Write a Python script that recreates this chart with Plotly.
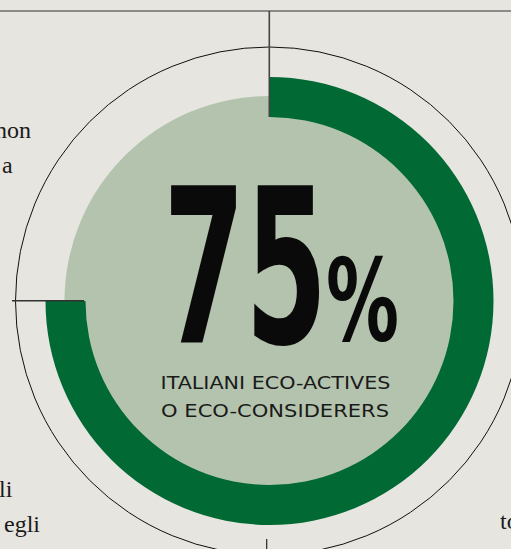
import plotly.graph_objects as go

# ---- data ----
labels = ["Eco-actives o eco-considerers", "Altri"]
values = [75, 25]
subtitle_lines = ["ITALIANI ECO-ACTIVES", "O ECO-CONSIDERERS"]
side_text_left = [("non", 33, 138), ("a", 15, 173), ("li", 15, 497), ("egli", 42, 532)]
side_text_right = [("to", 498, 529)]

W, H = 511, 549
BG = "#e6e5e0"
DARK_GREEN = "#006934"
LIGHT_GREEN = "#b4c3ad"

CX, CY = 269.5, 301
R_OUT_CIRCLE = 254
R_RING_OUT = 224
R_RING_IN = 184
R_DISK = 205


def px(x):
    return x / W


def py(y):
    return 1 - y / H


fig = go.Figure()

fig.add_trace(go.Pie(
    labels=labels,
    values=values,
    sort=False,
    direction="clockwise",
    rotation=0,
    hole=R_RING_IN / R_RING_OUT,
    marker=dict(colors=[DARK_GREEN, "rgba(0,0,0,0)"], line=dict(width=0)),
    textinfo="none",
    hoverinfo="skip",
    showlegend=False,
    domain=dict(x=[px(CX - R_RING_OUT), px(CX + R_RING_OUT)],
                y=[py(CY + R_RING_OUT), py(CY - R_RING_OUT)]),
))

shapes = [
    dict(type="circle", xref="paper", yref="paper", layer="below",
         x0=px(CX - R_DISK), x1=px(CX + R_DISK), y0=py(CY + R_DISK), y1=py(CY - R_DISK),
         fillcolor=LIGHT_GREEN, line=dict(width=0)),
    dict(type="circle", xref="paper", yref="paper", layer="below",
         x0=px(CX - R_OUT_CIRCLE), x1=px(CX + R_OUT_CIRCLE),
         y0=py(CY + R_OUT_CIRCLE), y1=py(CY - R_OUT_CIRCLE),
         fillcolor="rgba(0,0,0,0)", line=dict(color="#111", width=1)),
    dict(type="line", xref="paper", yref="paper", layer="above",
         x0=0, x1=1, y0=py(11), y1=py(11), line=dict(color="#333", width=1.2)),
    dict(type="line", xref="paper", yref="paper", layer="above",
         x0=px(269.3), x1=px(269.3), y0=py(11), y1=py(117), line=dict(color="#444", width=1.6)),
    dict(type="line", xref="paper", yref="paper", layer="above",
         x0=px(12), x1=px(84), y0=py(300.7), y1=py(300.7), line=dict(color="#333", width=1.6)),
    dict(type="line", xref="paper", yref="paper", layer="above",
         x0=px(266.7), x1=px(266.7), y0=py(539), y1=py(549), line=dict(color="#222", width=1.2)),
]

annotations = [
    dict(text=str(values[0]), xref="paper", yref="paper", x=px(244.5), y=py(268),
         xanchor="center", yanchor="middle", showarrow=False,
         font=dict(family="Liberation Sans Narrow, DejaVu Sans Condensed, Liberation Sans",
                   size=216, color="#0a0a0a", weight="bold")),
    dict(text="%", xref="paper", yref="paper", x=px(362.5), y=py(300),
         xanchor="center", yanchor="middle", showarrow=False,
         font=dict(family="Liberation Sans Narrow, DejaVu Sans Condensed, Liberation Sans",
                   size=114, color="#0a0a0a", weight="bold")),
    dict(text=subtitle_lines[0], xref="paper", yref="paper", x=px(275), y=py(383),
         xanchor="center", yanchor="middle", showarrow=False,
         font=dict(family="DejaVu Sans", size=17, color="#1a1a1a")),
    dict(text=subtitle_lines[1], xref="paper", yref="paper", x=px(275), y=py(411),
         xanchor="center", yanchor="middle", showarrow=False,
         font=dict(family="DejaVu Sans", size=17, color="#1a1a1a")),
]

for t, xr, base in side_text_left:
    annotations.append(dict(text=t, xref="paper", yref="paper", x=px(xr), y=py(base - 8),
                            xanchor="right", yanchor="middle", showarrow=False,
                            font=dict(family="Liberation Serif", size=24, color="#1a1a1a")))
for t, xl, base in side_text_right:
    annotations.append(dict(text=t, xref="paper", yref="paper", x=px(xl), y=py(base - 8),
                            xanchor="left", yanchor="middle", showarrow=False,
                            font=dict(family="Liberation Serif", size=24, color="#1a1a1a")))

fig.update_layout(
    width=W, height=H,
    margin=dict(l=0, r=0, t=0, b=0, pad=0),
    paper_bgcolor=BG, plot_bgcolor=BG,
    showlegend=False,
    xaxis=dict(visible=False), yaxis=dict(visible=False),
    shapes=shapes,
    annotations=annotations,
)

post = """
var gd = document.getElementById('{plot_id}');
var targets = {'75': 164, '%': 73, 'ITALIANI ECO-ACTIVES': 230, 'O ECO-CONSIDERERS': 228};
gd.querySelectorAll('text.annotation-text').forEach(function(t){
  var tw = targets[t.textContent];
  if (tw) {
    var w = t.getBBox().width;
    if (w > 0) {
      t.style.transformBox = 'fill-box';
      t.style.transformOrigin = 'center';
      t.style.transform = 'scaleX(' + (tw / w) + ')';
    }
  }
});
"""

fig.write_html("out.html", post_script=post, config={"displayModeBar": False})
